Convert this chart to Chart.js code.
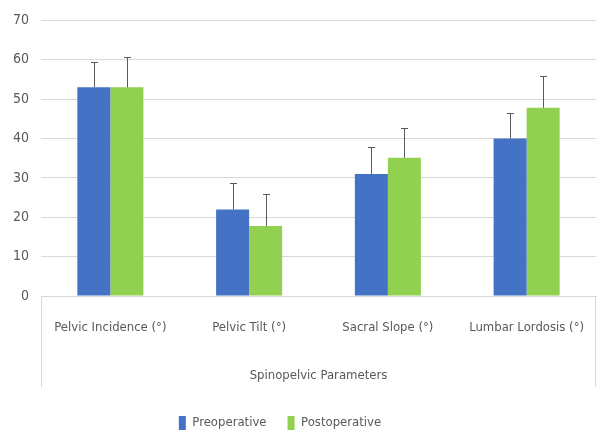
<!DOCTYPE html>
<html>
<head>
<meta charset="utf-8">
<script src="https://cdn.jsdelivr.net/npm/chart.js@4"></script>
<style>
  html, body { margin: 0; padding: 0; background: #fff; }
  #wrap { width: 598px; height: 434px; }
</style>
</head>
<body>
<div id="wrap"><canvas id="myChart" width="598" height="434"></canvas></div>
<script>
// data
const categories = ['Pelvic Incidence (°)', 'Pelvic Tilt (°)', 'Sacral Slope (°)', 'Lumbar Lordosis (°)'];
const preValues = [53, 22, 31, 40];
const postValues = [53, 17.8, 35.1, 47.8];
const preErrTop = [59.5, 28.7, 37.8, 46.4];
const postErrTop = [60.8, 25.9, 42.7, 55.8];
const yTicks = [0, 10, 20, 30, 40, 50, 60, 70];

const FONT = "'DejaVu Sans Condensed', 'Liberation Sans Narrow', Roboto, sans-serif";
const TXT = '#595959';
const GRID = '#d9d9d9';

// error bars, only the upper half like the original
const errorBars = {
  id: 'errorBars',
  afterDatasetsDraw(chart) {
    const ctx = chart.ctx;
    const y = chart.scales.y;
    const tops = [preErrTop, postErrTop];
    ctx.save();
    ctx.strokeStyle = '#595959';
    ctx.lineWidth = 1;
    chart.data.datasets.forEach((ds, di) => {
      const meta = chart.getDatasetMeta(di);
      meta.data.forEach((bar, i) => {
        const x = Math.round(bar.x) + 0.5;
        const yTop = Math.round(y.getPixelForValue(tops[di][i])) + 0.5;
        ctx.beginPath();
        ctx.moveTo(x, bar.y);
        ctx.lineTo(x, yTop);
        ctx.moveTo(x - 3.5, yTop);
        ctx.lineTo(x + 3.5, yTop);
        ctx.stroke();
      });
    });
    ctx.restore();
  }
};

// the two vertical lines boxing the category axis, and legend nudged left
const axisBox = {
  id: 'axisBox',
  afterLayout(chart) {
    chart.legend.left -= 18;
    chart.legend.right -= 18;
  },
  afterDraw(chart) {
    const ctx = chart.ctx;
    const a = chart.chartArea;
    ctx.save();
    ctx.strokeStyle = GRID;
    ctx.lineWidth = 1;
    ctx.beginPath();
    ctx.moveTo(Math.round(a.left) + 0.5, a.bottom);
    ctx.lineTo(Math.round(a.left) + 0.5, 387);
    ctx.moveTo(Math.round(a.right) - 0.5, a.bottom);
    ctx.lineTo(Math.round(a.right) - 0.5, 387);
    ctx.stroke();
    ctx.restore();
  }
};

new Chart(document.getElementById('myChart'), {
  type: 'bar',
  data: {
    labels: categories,
    datasets: [
      { label: 'Preoperative', data: preValues, backgroundColor: '#4472C4' },
      { label: 'Postoperative', data: postValues, backgroundColor: '#92D050' }
    ]
  },
  options: {
    responsive: false,
    animation: false,
    devicePixelRatio: 1,
    layout: { padding: { top: 16, right: 2, left: 0, bottom: -6 } },
    datasets: { bar: { categoryPercentage: 0.476, barPercentage: 1 } },
    plugins: {
      tooltip: { enabled: false },
      legend: {
        position: 'bottom',
        labels: {
          color: TXT,
          font: { family: FONT, size: 13 },
          boxWidth: 7,
          boxHeight: 14,
          padding: 21
        }
      }
    },
    scales: {
      x: {
        grid: { display: false, drawTicks: false },
        border: { display: true, color: GRID, width: 1 },
        ticks: { color: TXT, font: { family: FONT, size: 13 }, padding: 24, maxRotation: 0, autoSkip: false },
        title: {
          display: true,
          text: 'Spinopelvic Parameters',
          color: TXT,
          font: { family: FONT, size: 13 },
          padding: { top: 0, bottom: 12 }
        },
        afterFit(scale) {
          scale.height = 99;
          scale.paddingLeft = 0;
          scale.paddingRight = 0;
        }
      },
      y: {
        min: 0,
        max: 70,
        afterBuildTicks(scale) { scale.ticks = yTicks.map(v => ({ value: v })); },
        grid: { color: GRID, lineWidth: 1, drawTicks: false },
        border: { display: false },
        ticks: { color: TXT, font: { family: FONT, size: 14 }, padding: 12 },
        afterFit(scale) { scale.width = 41; }
      }
    }
  },
  plugins: [errorBars, axisBox]
});
</script>
</body>
</html>
